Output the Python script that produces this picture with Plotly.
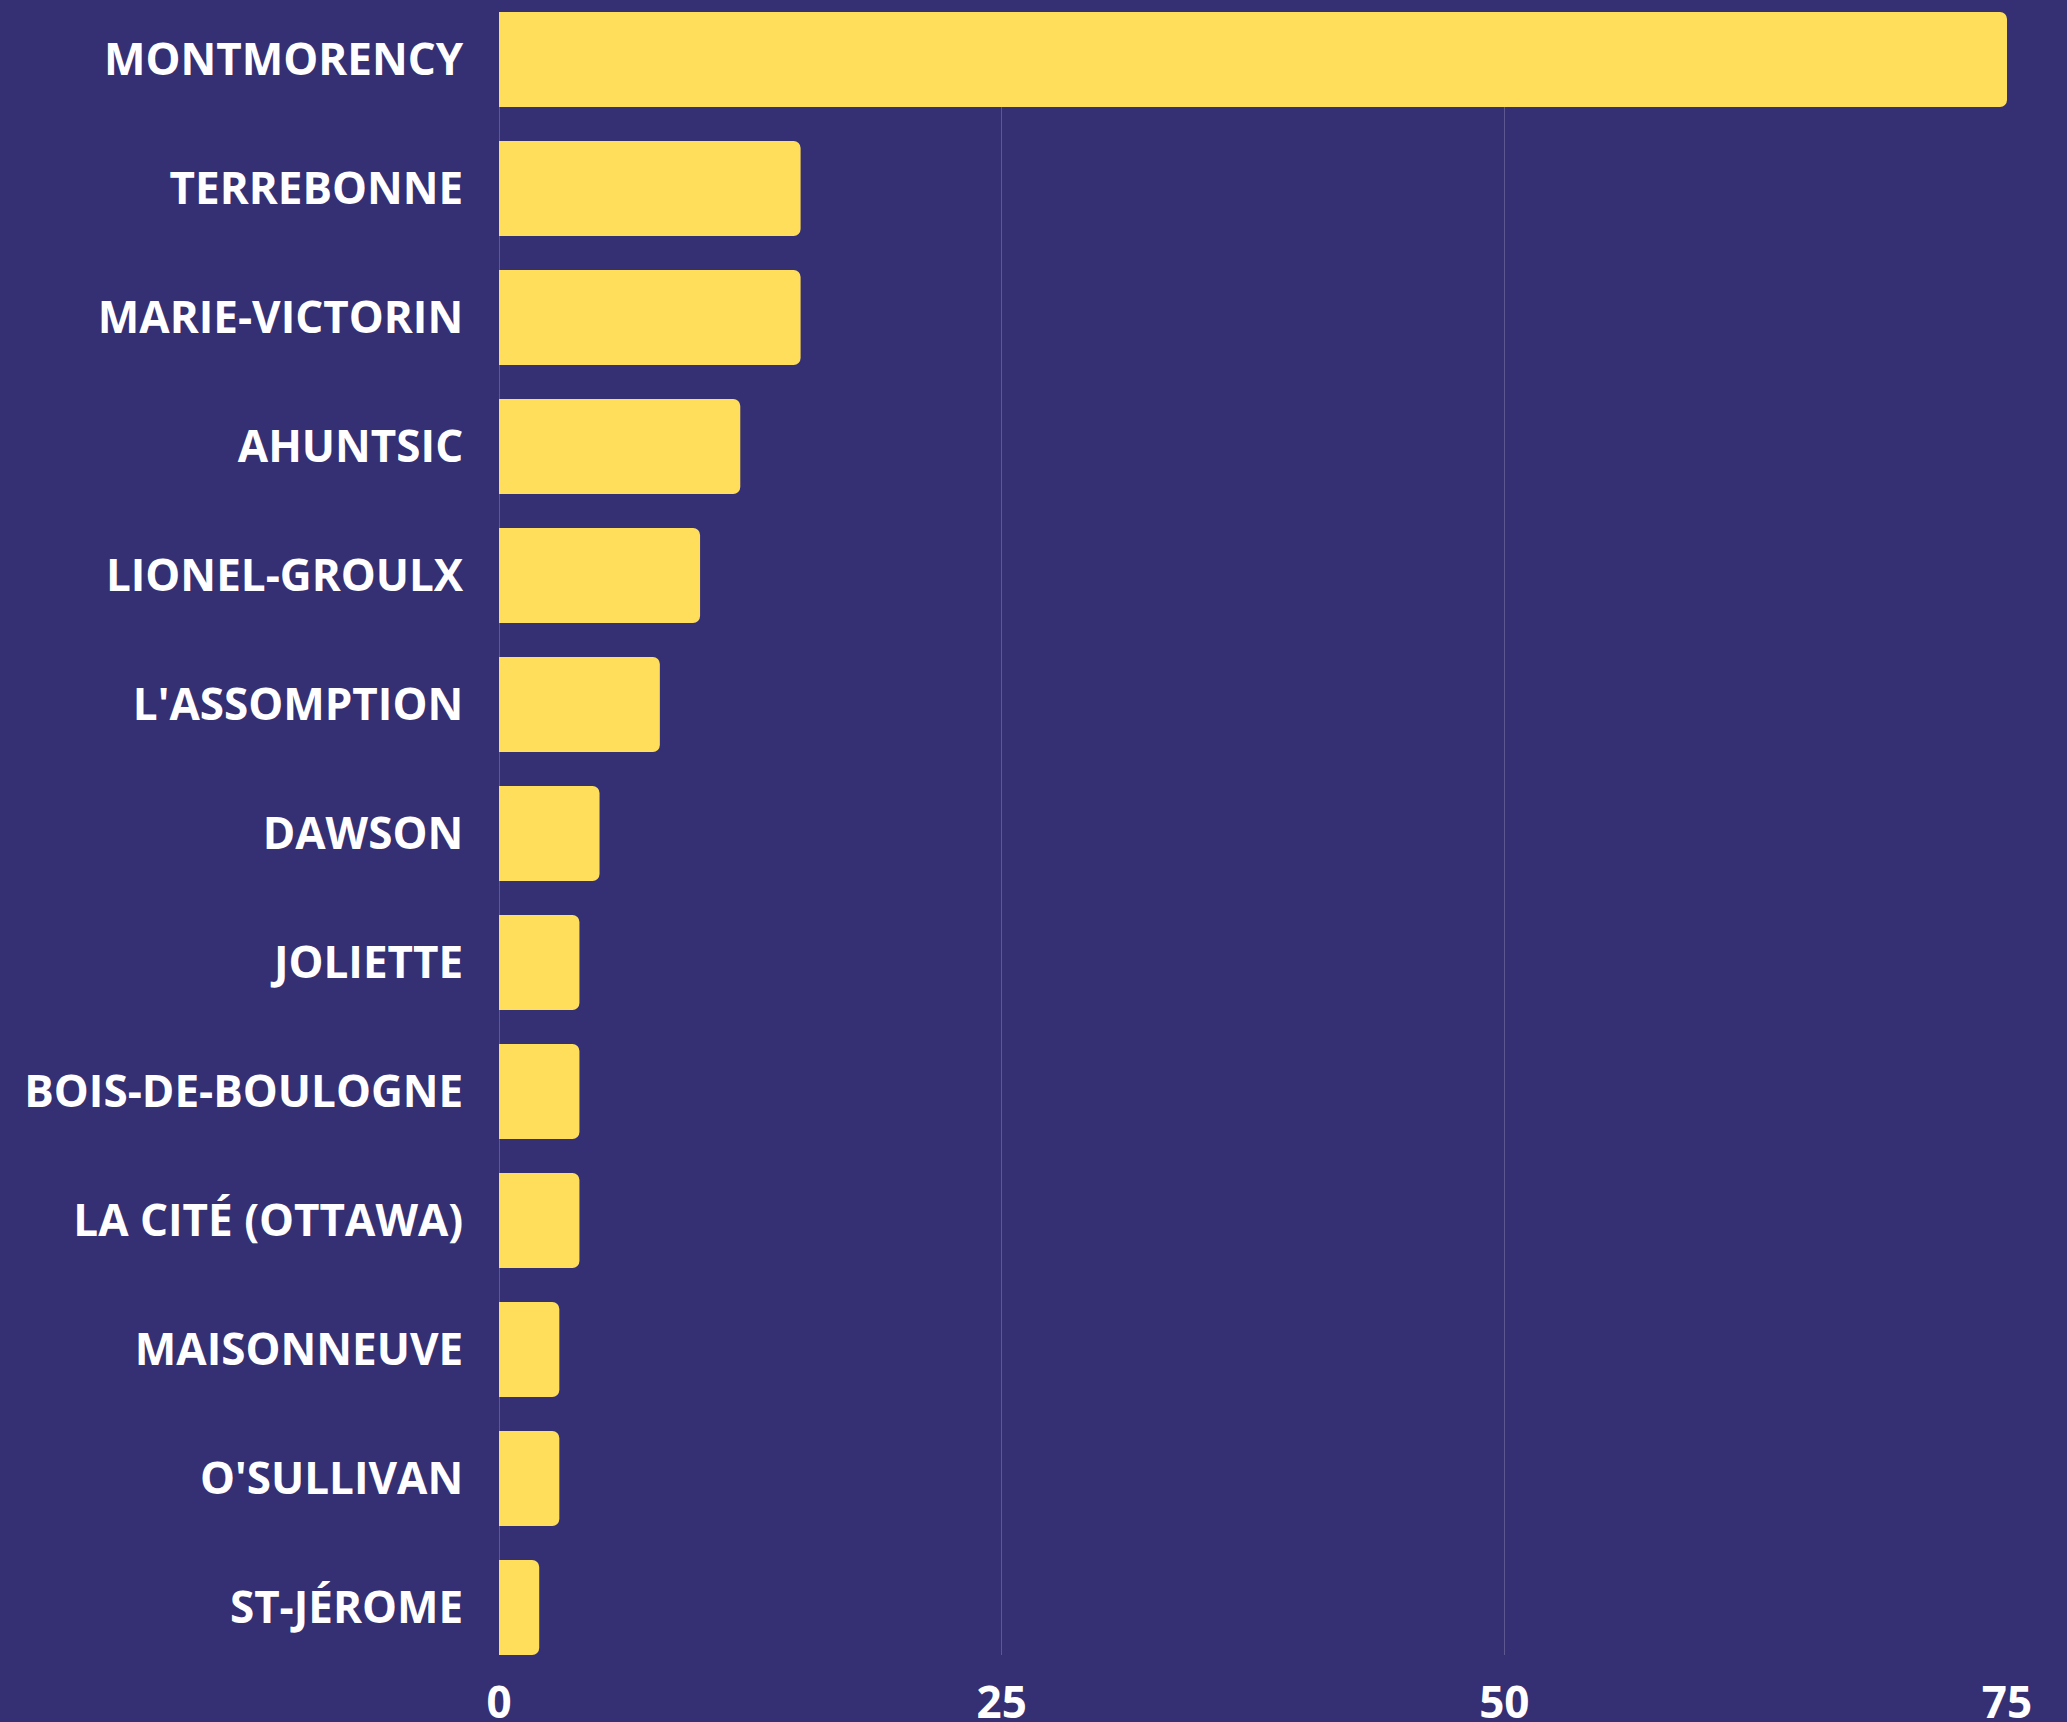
import plotly.graph_objects as go

colleges = ["MONTMORENCY", "TERREBONNE", "MARIE-VICTORIN", "AHUNTSIC", "LIONEL-GROULX",
            "L'ASSOMPTION", "DAWSON", "JOLIETTE", "BOIS-DE-BOULOGNE", "LA CITÉ (OTTAWA)",
            "MAISONNEUVE", "O'SULLIVAN", "ST-JÉROME"]
values = [75, 15, 15, 12, 10, 8, 5, 4, 4, 4, 3, 3, 2]
x_ticks = [0, 25, 50, 75]

BG = "#352F73"
BAR = "#FFDE5B"
GRID = "rgba(255,255,255,0.2)"

fig = go.Figure(go.Bar(
    x=values, y=colleges, orientation="h",
    marker=dict(color=BAR, line=dict(width=0)),
))

half = 0.368
fig.update_layout(
    width=2067, height=1722,
    paper_bgcolor=BG, plot_bgcolor=BG,
    margin=dict(l=499, r=60, t=12, b=67),
    bargap=0.264,
    barcornerradius=7,
    showlegend=False,
    font=dict(family="Open Sans", color="white", size=44),
)
fig.update_xaxes(
    range=[0, 75], tickvals=x_ticks, showgrid=True, gridcolor=GRID, gridwidth=1,
    zeroline=True, zerolinecolor=GRID, zerolinewidth=1,
    tickfont=dict(family="Open Sans", size=44, color="white", weight="bold"),
    ticks="outside", ticklen=9, tickcolor="rgba(0,0,0,0)",
    automargin=False, fixedrange=True,
)
fig.update_yaxes(
    categoryorder="array", categoryarray=colleges,
    range=[len(colleges) - 1 + half, -half],
    showgrid=False, zeroline=False,
    tickfont=dict(family="Open Sans", size=44, color="white", weight="bold"),
    ticks="outside", ticklen=26, tickcolor="rgba(0,0,0,0)",
    automargin=False, fixedrange=True,
)

fig.write_html("out.html")
